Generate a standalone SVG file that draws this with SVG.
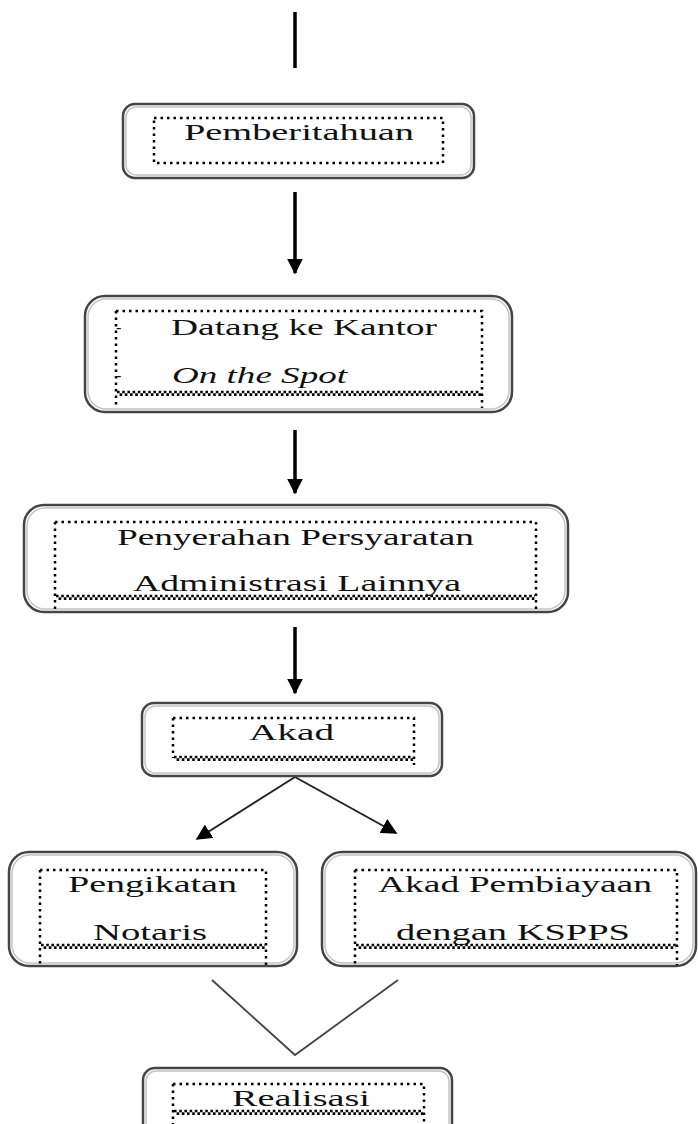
<svg xmlns="http://www.w3.org/2000/svg" width="698" height="1124" viewBox="0 0 698 1124">
<style>
.box{fill:#fff;stroke:#454545;stroke-width:2.5}
.inb{fill:none;stroke:#c4c4c4;stroke-width:1.5}
.dot{fill:none;stroke:#000;stroke-width:2.5;stroke-dasharray:2.5 4}
.chk{fill:none;stroke:#000;stroke-width:2.6;stroke-dasharray:2.6 2.6}
.chk2{fill:none;stroke:#000;stroke-width:2.6;stroke-dasharray:2.6 2.6;stroke-dashoffset:2.6}
.t{font-family:"Liberation Serif","Times New Roman",serif;font-size:24px;fill:#111}
.it{font-style:italic}
.ln{stroke:#000;stroke-width:3.5;fill:none}
.ln2{stroke:#222;stroke-width:2;fill:none}
.vl{stroke:#444;stroke-width:1.8;fill:none}
</style>
<defs>
<marker id="ah" viewBox="0 0 10 10" refX="9" refY="5" markerWidth="4.5" markerHeight="4.5" orient="auto" markerUnits="strokeWidth">
<path d="M0,0 L10,5 L0,10 Z" fill="#000"/>
</marker>
<marker id="ah2" viewBox="0 0 10 10" refX="9" refY="5" markerWidth="8" markerHeight="8" orient="auto" markerUnits="strokeWidth">
<path d="M0,0 L10,5 L0,10 Z" fill="#000"/>
</marker>
</defs>
<g id="connectors">
<line class="ln" x1="295" y1="12" x2="295" y2="68"/>
<line class="ln" x1="295" y1="192" x2="295" y2="273" marker-end="url(#ah)"/>
<line class="ln" x1="295" y1="430" x2="295" y2="493" marker-end="url(#ah)"/>
<line class="ln" x1="295" y1="627" x2="295" y2="693" marker-end="url(#ah)"/>
<line class="ln2" x1="295" y1="777" x2="197" y2="839" marker-end="url(#ah2)"/>
<line class="ln2" x1="295" y1="777" x2="396" y2="833" marker-end="url(#ah2)"/>
<polyline class="vl" points="212,980 295,1055 398,980"/>
</g>
<g id="n-pemberitahuan">
<rect class="box" x="123" y="104" width="351" height="74" rx="12"/>
<rect class="inb" x="126" y="107" width="345" height="68" rx="10"/>
<rect class="dot" x="154" y="118" width="289" height="45"/>
<text class="t" x="184" y="140" textLength="230" lengthAdjust="spacingAndGlyphs">Pemberitahuan</text>
</g>
<g id="n-datang">
<rect class="box" x="85" y="296" width="427" height="116" rx="20"/>
<rect class="inb" x="88" y="299" width="421" height="110" rx="18"/>
<path class="dot" d="M116,311 H482 V408 M116,311 V408"/>
<line class="chk" x1="117" y1="392" x2="481" y2="392"/>
<line class="chk2" x1="117" y1="394.6" x2="481" y2="394.6"/>
<text class="t" x="116" y="333" style="font-size:16px">-</text>
<text class="t" x="116" y="381" style="font-size:16px">-</text>
<text class="t" x="171" y="335" textLength="266" lengthAdjust="spacingAndGlyphs">Datang ke Kantor</text>
<text class="t it" x="172" y="383" textLength="175" lengthAdjust="spacingAndGlyphs">On the Spot</text>
</g>
<g id="n-penyerahan">
<rect class="box" x="24" y="505" width="544" height="107" rx="20"/>
<rect class="inb" x="27" y="508" width="538" height="101" rx="18"/>
<path class="dot" d="M55,522 H536 V612 M55,522 V612"/>
<line class="chk" x1="56" y1="596" x2="535" y2="596"/>
<line class="chk2" x1="56" y1="598.6" x2="535" y2="598.6"/>
<text class="t" x="117" y="545" textLength="357" lengthAdjust="spacingAndGlyphs">Penyerahan Persyaratan</text>
<text class="t" x="133" y="591" textLength="328" lengthAdjust="spacingAndGlyphs">Administrasi Lainnya</text>
</g>
<g id="n-akad">
<rect class="box" x="142" y="703" width="300" height="73" rx="12"/>
<rect class="inb" x="145" y="706" width="294" height="67" rx="10"/>
<path class="dot" d="M173,718 H414 V765 M173,718 V758"/>
<line class="chk" x1="174" y1="757" x2="413" y2="757"/>
<line class="chk2" x1="174" y1="759.6" x2="413" y2="759.6"/>
<text class="t" x="249" y="740" textLength="85" lengthAdjust="spacingAndGlyphs">Akad</text>
</g>
<g id="n-pengikatan">
<rect class="box" x="9" y="852" width="288" height="114" rx="20"/>
<rect class="inb" x="12" y="855" width="282" height="108" rx="18"/>
<path class="dot" d="M40,870 H266 V965 M40,870 V965"/>
<line class="chk" x1="41" y1="945" x2="265" y2="945"/>
<line class="chk2" x1="41" y1="947.6" x2="265" y2="947.6"/>
<text class="t" x="68" y="892" textLength="169" lengthAdjust="spacingAndGlyphs">Pengikatan</text>
<text class="t" x="93" y="940" textLength="114" lengthAdjust="spacingAndGlyphs">Notaris</text>
</g>
<g id="n-akad-pembiayaan">
<rect class="box" x="322" y="852" width="374" height="114" rx="20"/>
<rect class="inb" x="325" y="855" width="368" height="108" rx="18"/>
<path class="dot" d="M355,870 H677 V965 M355,870 V965"/>
<line class="chk" x1="356" y1="945" x2="676" y2="945"/>
<line class="chk2" x1="356" y1="947.6" x2="676" y2="947.6"/>
<text class="t" x="378" y="892" textLength="274" lengthAdjust="spacingAndGlyphs">Akad Pembiayaan</text>
<text class="t" x="396" y="940" textLength="234" lengthAdjust="spacingAndGlyphs">dengan KSPPS</text>
</g>
<g id="n-realisasi">
<rect class="box" x="143" y="1068" width="309" height="90" rx="12"/>
<rect class="inb" x="146" y="1071" width="303" height="84" rx="10"/>
<path class="dot" d="M173,1084 H424 V1124 M173,1084 V1124"/>
<line class="chk" x1="174" y1="1111" x2="423" y2="1111"/>
<line class="chk2" x1="174" y1="1113.6" x2="423" y2="1113.6"/>
<text class="t" x="232" y="1106" textLength="138" lengthAdjust="spacingAndGlyphs">Realisasi</text>
</g>
</svg>
